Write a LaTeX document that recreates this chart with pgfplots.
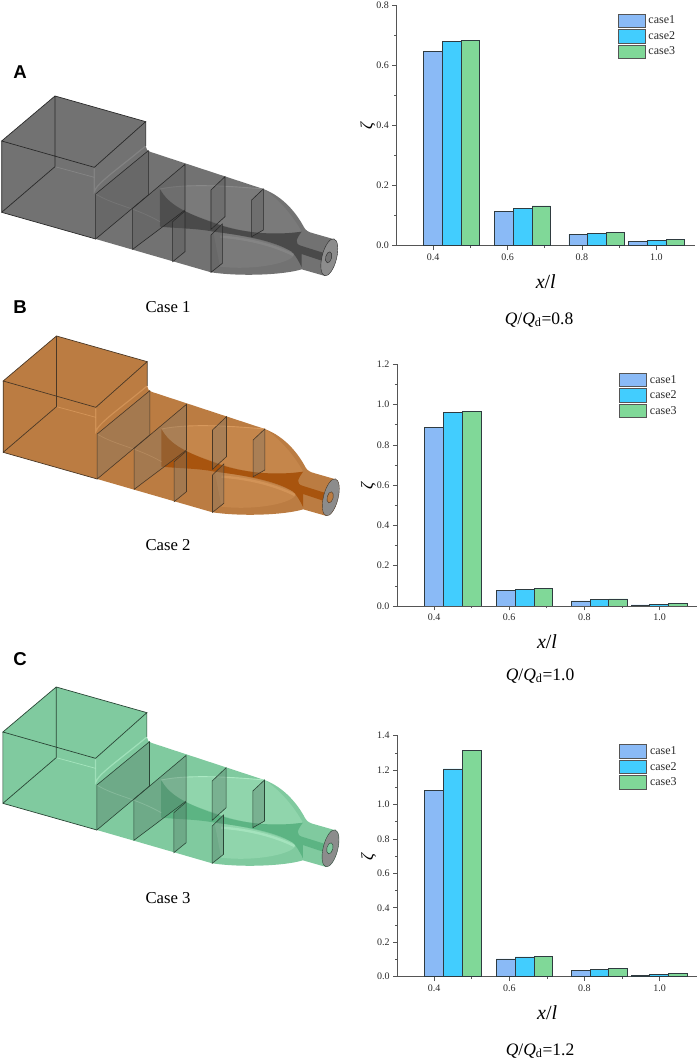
\documentclass[border=0pt]{standalone}
\usepackage{fontspec}
\setmainfont{Liberation Serif}
\newfontfamily\panelfont{Liberation Sans}
\usepackage{pgfplots}
\usepackage{pgfplotstable}
\pgfplotsset{compat=1.18}

\definecolor{caseA}{HTML}{8ABAF6}
\definecolor{caseB}{HTML}{42CDFE}
\definecolor{caseC}{HTML}{80D898}
\definecolor{barline}{HTML}{2F3B40}
\definecolor{axisgray}{HTML}{555555}
\definecolor{ticktext}{HTML}{2A2A2A}
\definecolor{greyBody}{HTML}{727272}
\definecolor{greyDark}{HTML}{4A4A4A}
\definecolor{greyLight}{HTML}{8E8E8E}
\definecolor{greyBlade}{HTML}{585858}
\definecolor{greyLine}{HTML}{2A2A2A}
\definecolor{orBody}{HTML}{BB7C42}
\definecolor{orDark}{HTML}{A8540E}
\definecolor{orLight}{HTML}{DE9F62}
\definecolor{orBlade}{HTML}{7A7468}
\definecolor{orLine}{HTML}{4A3826}
\definecolor{grBody}{HTML}{80CA9F}
\definecolor{grDark}{HTML}{5CB483}
\definecolor{grLight}{HTML}{B5F0CB}
\definecolor{grBlade}{HTML}{4F6F5F}
\definecolor{grLine}{HTML}{2A4636}
\definecolor{faceGray}{HTML}{8C8C8C}

% x is the left edge position of each group, as drawn (groups are not evenly placed)
\pgfplotstableread{
x     c1     c2     c3
0.400 0.645  0.679  0.683
0.591 0.114  0.125  0.132
0.790 0.038  0.041  0.043
0.951 0.014  0.017  0.021
}\tableA
\pgfplotstableread{
x     c1     c2     c3
0.400 0.885  0.962  0.965
0.591 0.078  0.082  0.087
0.790 0.025  0.031  0.035
0.949 0.005  0.007  0.013
}\tableB
\pgfplotstableread{
x     c1     c2     c3
0.400 1.082  1.207  1.316
0.591 0.103  0.115  0.118
0.790 0.034  0.041  0.047
0.949 0.008  0.012  0.018
}\tableC

\pgfplotsset{
  casebars/.style={
    ybar, scale only axis,
    anchor=south west,
    axis x line=bottom, axis y line=left,
    axis line style={-, draw=axisgray, line width=0.9pt},
    tick align=outside, tick style={axisgray, line width=0.7pt},
    major tick length=4.5pt, minor tick length=2.5pt,
    xtick={0.4,0.6,0.8,1.0}, minor x tick num=1, minor y tick num=1,
    ymin=0,
    /pgf/number format/assume math mode=true,
    /pgf/number format/fixed, /pgf/number format/fixed zerofill, /pgf/number format/precision=1,
    scaled ticks=false,
    tick label style={font=\fontsize{10}{11}\selectfont, text=ticktext},
    xlabel={\textit{x}/\textit{l}},
    xlabel style={at={(rel axis cs:0.5,0)}, anchor=center, yshift=-36pt, font=\fontsize{20}{22}\selectfont},
    ylabel={\textit{ζ}},
    ylabel style={at={(rel axis cs:0,0.5)}, anchor=center, yshift=29pt, font=\fontsize{17}{18}\selectfont},
    bar width=0.05,
    legend style={at={(axis description cs:0.74,0.965)}, anchor=north west, draw=none, fill=none,
      inner sep=0pt, row sep=1.2pt, font=\fontsize{12}{13}\selectfont,
      nodes={inner xsep=3pt, inner ysep=0pt, text=ticktext}},
    legend cell align=left,
    legend image code/.code={\draw[draw=axisgray, line width=0.9pt, ##1] (0pt,-6.7pt) rectangle (27pt,6.7pt);},
  },
  s1/.style={fill=caseA, draw=barline, line width=0.8pt, bar shift=0},
  s2/.style={fill=caseB, draw=barline, line width=0.8pt, bar shift=0.05},
  s3/.style={fill=caseC, draw=barline, line width=0.8pt, bar shift=0.1},
}

% the duct drawing, in 3x zoom pixels of a 350x290 crop
% #1 shift x, #2 shift y, #3 body, #4 dark channel, #5 highlight, #6 blade, #7 line
\newcommand{\duct}[7]{%
\begin{scope}[shift={(#1pt,#2pt)}, x=0.33333pt, y=-0.33333pt]
  \fill[#3] (5,303) -- (165,168) -- (437,245) -- (437,318) .. controls (438,328) and (442,332) .. (452,336)
    -- (790,447) .. controls (850,470) and (890,520) .. (912,562) .. controls (918,572) and (925,576) .. (940,580)
    -- (1003,598) -- (975,708) -- (905,688) .. controls (850,705) and (720,710) .. (633,697)
    -- (287,597) -- (5,517) -- cycle;
  % lobe shading
  \fill[#5, opacity=0.3] (480,447) .. controls (560,430) and (690,438) .. (790,447) .. controls (840,480) and (880,530) .. (905,575)
    .. controls (800,592) and (700,570) .. (640,545) .. controls (560,520) and (505,495) .. (480,447) -- cycle;
  \fill[#5, opacity=0.3] (640,575) .. controls (730,585) and (830,610) .. (885,640) .. controls (880,670) and (760,692) .. (660,680) -- cycle;
  % channel between the two lobes
  \fill[#4] (480,447) .. controls (505,495) and (560,520) .. (640,548) .. controls (700,572) and (800,590) .. (905,575)
    .. controls (888,598) and (882,612) .. (905,618) -- (975,640) -- (965,662) -- (905,642) -- (905,682)
    .. controls (895,660) and (885,645) .. (875,635) .. controls (820,600) and (720,585) .. (640,575)
    .. controls (590,565) and (530,565) .. (480,560) -- cycle;
  % bright streak on the lower lobe
  \draw[#5, line width=2.4pt, opacity=0.55] (660,590) .. controls (740,595) and (820,615) .. (880,645);
  \draw[#5, line width=0.9pt, opacity=0.8] (480,447) .. controls (560,430) and (690,438) .. (790,447);
  \draw[#5, line width=0.7pt, opacity=0.7] (165,380) -- (283,412) (287,462) .. controls (340,495) and (400,500) .. (480,545);
  \draw[#5, line width=1.2pt, opacity=0.6] (283,385) -- (283,455) .. controls (290,430) and (350,390) .. (437,318);
  % blades
  \foreach \a/\b/\c/\d/\e/\f/\g/\h in {287/462/445/332/445/465/287/597, 398/505/555/373/555/510/398/628,
      518/545/555/513/555/635/518/665, 633/450/675/410/675/530/633/568, 755/480/790/447/790/570/755/590,
      633/585/667/552/667/670/633/697}{
    \filldraw[fill=#6, fill opacity=0.35, draw=#7, line width=0.6pt] (\a,\b) -- (\c,\d) -- (\e,\f) -- (\g,\h) -- cycle;
  }
  % box edges
  \draw[#7, line width=0.7pt] (5,303) -- (165,168) -- (437,245) -- (283,382) -- cycle
    (165,168) -- (165,380) -- (5,517) -- (5,303) (5,517) -- (287,597) (437,245) -- (437,318);
  % outlet face
  \filldraw[fill=faceGray, draw=#7, line width=0.4pt, rotate around={-14:(988,652)}] (988,652) ellipse (22 and 57);
  \filldraw[fill=#3, draw=#7, line width=0.4pt, rotate around={-14:(986,652)}] (986,652) ellipse (9 and 17);
\end{scope}}

\begin{document}
\begin{tikzpicture}
\useasboundingbox (0,0) rectangle (699pt,1060pt);

\duct{0}{1020}{greyBody}{greyDark}{greyLight}{greyBlade}{greyLine}
\duct{1.5}{780}{orBody}{orDark}{orLight}{orBlade}{orLine}
\duct{1.2}{429}{grBody}{grDark}{grLight}{grBlade}{grLine}

\node[font=\panelfont\bfseries\fontsize{18.6}{20}\selectfont] at (20pt,988pt) {A};
\node[font=\panelfont\bfseries\fontsize{18.6}{20}\selectfont] at (20pt,753pt) {B};
\node[font=\panelfont\bfseries\fontsize{18.6}{20}\selectfont] at (20pt,401pt) {C};

\node[font=\fontsize{16.7}{18}\selectfont] at (168pt,753pt) {Case 1};
\node[font=\fontsize{16.7}{18}\selectfont] at (168pt,514.5pt) {Case 2};
\node[font=\fontsize{16.7}{18}\selectfont] at (168pt,162pt) {Case 3};

\begin{axis}[casebars, at={(396.8pt,814.3pt)}, width=298pt, height=240.7pt,
    xmin=0.3024, xmax=1.1034, ymax=0.8, ytick={0,0.2,...,0.8}]
  \addplot[s1] table[x=x, y=c1] {\tableA};
  \addplot[s2] table[x=x, y=c2] {\tableA};
  \addplot[s3] table[x=x, y=c3] {\tableA};
  \legend{case1,case2,case3}
\end{axis}
\node[font=\fontsize{17.5}{19}\selectfont] at (539pt,740pt) {\textit{Q}/\textit{Q}\textsubscript{d}=0.8};

\begin{axis}[casebars, at={(397.3pt,454pt)}, width=299.4pt, height=241.7pt,
    xmin=0.3024, xmax=1.0986, ymax=1.2, ytick={0,0.2,...,1.2}]
  \addplot[s1] table[x=x, y=c1] {\tableB};
  \addplot[s2] table[x=x, y=c2] {\tableB};
  \addplot[s3] table[x=x, y=c3] {\tableB};
  \legend{case1,case2,case3}
\end{axis}
\node[font=\fontsize{17.5}{19}\selectfont] at (540pt,384pt) {\textit{Q}/\textit{Q}\textsubscript{d}=1.0};

\begin{axis}[casebars, at={(397.7pt,83.3pt)}, width=299pt, height=241pt,
    xmin=0.3032, xmax=1.0986, ymax=1.4, ytick={0,0.2,...,1.4}]
  \addplot[s1] table[x=x, y=c1] {\tableC};
  \addplot[s2] table[x=x, y=c2] {\tableC};
  \addplot[s3] table[x=x, y=c3] {\tableC};
  \legend{case1,case2,case3}
\end{axis}
\node[font=\fontsize{17.5}{19}\selectfont] at (540pt,9pt) {\textit{Q}/\textit{Q}\textsubscript{d}=1.2};
\end{tikzpicture}
\end{document}
